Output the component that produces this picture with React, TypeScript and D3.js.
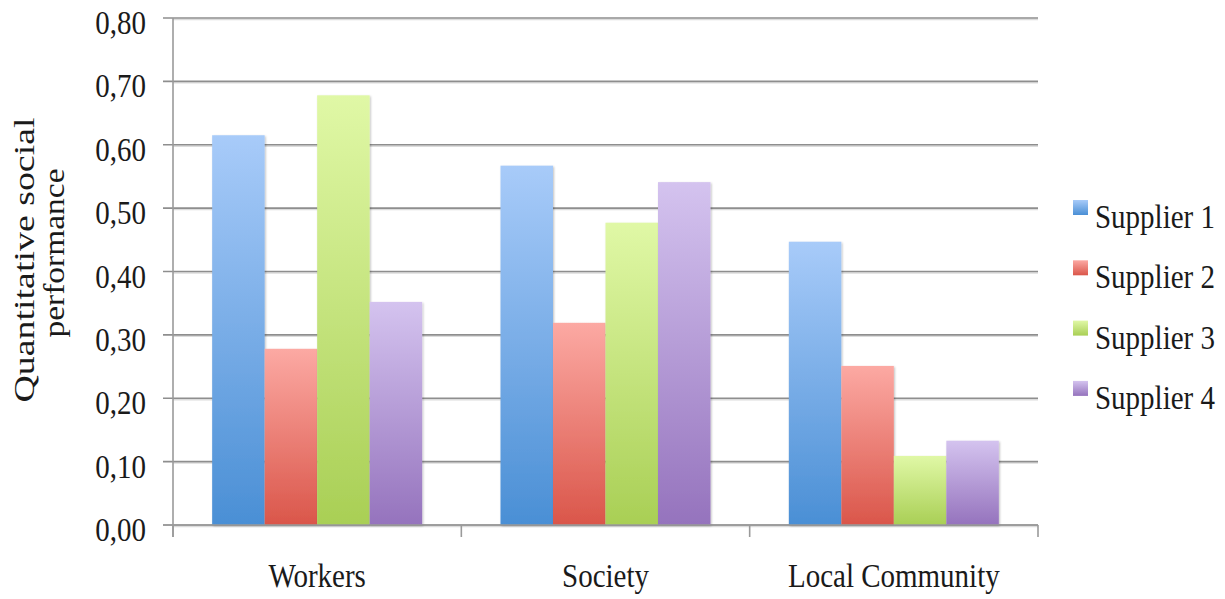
import React from "react";
import * as d3 from "d3";

// Social performance scores per stakeholder category
const categories = ["Workers", "Society", "Local Community"];
const series = ["Supplier 1", "Supplier 2", "Supplier 3", "Supplier 4"];
const supplier1 = [0.615, 0.567, 0.447];
const supplier2 = [0.278, 0.319, 0.251];
const supplier3 = [0.678, 0.477, 0.109];
const supplier4 = [0.352, 0.541, 0.133];
const yTicks = [0, 0.1, 0.2, 0.3, 0.4, 0.5, 0.6, 0.7, 0.8];
const yTitleLines = ["Quantitative social", "performance"];

const seriesValues = [supplier1, supplier2, supplier3, supplier4];

// Gradient stops (top, bottom) for each supplier's bars
const barColors = [
  ["#a8cbf9", "#4a8fd5"],
  ["#fca9a3", "#da564a"],
  ["#e0f8a6", "#a9cf55"],
  ["#d4c3ef", "#9573bd"],
];

const W = 1225;
const H = 599;
const plot = { left: 173, right: 1038, top: 18, bottom: 525 };
const FONT = "'Liberation Serif', 'Times New Roman', serif";
const FS = 29;
const STRETCH = 1.16;

export default function App() {
  const x = d3.scaleBand<string>().domain(categories).range([plot.left, plot.right]);
  const xInner = d3
    .scaleBand<string>()
    .domain(series)
    .range([0, x.bandwidth()])
    .paddingOuter(0.746);
  const y = d3.scaleLinear().domain([0, 0.8]).range([plot.bottom, plot.top]);
  const fmt = (v: number) => d3.format(".2f")(v).replace(".", ",");

  const boundaries = [plot.left, ...categories.map((c) => (x(c) as number) + x.bandwidth())];

  return (
    <svg
      width={W}
      height={H}
      style={{ position: "absolute", left: 0, top: 0, background: "#fff" }}
      fontFamily={FONT}
    >
      <defs>
        {barColors.map((c, i) => (
          <linearGradient key={i} id={`bar-grad-${i}`} x1="0" y1="0" x2="0" y2="1">
            <stop offset="0%" stopColor={c[0]} />
            <stop offset="100%" stopColor={c[1]} />
          </linearGradient>
        ))}
        <filter id="bar-shadow" x="-10%" y="-10%" width="120%" height="120%">
          <feGaussianBlur in="SourceAlpha" stdDeviation="1" />
          <feOffset dx="0.5" dy="0.5" result="b" />
          <feComponentTransfer>
            <feFuncA type="linear" slope="0.25" />
          </feComponentTransfer>
          <feMerge>
            <feMergeNode />
            <feMergeNode in="SourceGraphic" />
          </feMerge>
        </filter>
      </defs>

      {/* horizontal gridlines with soft shadow */}
      {yTicks.map((t) => (
        <g key={t}>
          <line x1={plot.left} x2={plot.right} y1={y(t) + 1.5} y2={y(t) + 1.5} stroke="#dcdcdc" strokeWidth={1.4} />
          <line x1={plot.left - 10} x2={plot.right} y1={y(t)} y2={y(t)} stroke="#8e8e8e" strokeWidth={1.6} />
        </g>
      ))}

      {/* y axis line */}
      <line x1={plot.left} x2={plot.left} y1={plot.top} y2={plot.bottom + 12} stroke="#9a9a9a" strokeWidth={1.6} />

      {/* category boundary ticks */}
      {boundaries.map((bx, i) => (
        <line key={i} x1={bx} x2={bx} y1={plot.bottom} y2={plot.bottom + 12} stroke="#9a9a9a" strokeWidth={1.6} />
      ))}

      {/* bars */}
      {categories.map((c, ci) => (
        <g key={c} transform={`translate(${x(c)},0)`}>
          {series.map((s, si) => {
            const v = seriesValues[si][ci];
            return (
              <rect
                key={s}
                x={xInner(s)}
                y={y(v)}
                width={xInner.bandwidth()}
                height={y(0) - y(v)}
                fill={`url(#bar-grad-${si})`}
                filter="url(#bar-shadow)"
              />
            );
          })}
        </g>
      ))}

      {/* x axis line on top of bars */}
      <line x1={plot.left - 10} x2={plot.right} y1={plot.bottom} y2={plot.bottom} stroke="#9a9a9a" strokeWidth={1.6} />

      {/* y tick labels */}
      {yTicks.map((t) => (
        <text
          key={t}
          transform={`translate(146,${y(t) + 16}) scale(1,${STRETCH})`}
          textAnchor="end"
          fontSize={FS}
          fill="#1a1a1a"
        >
          {fmt(t)}
        </text>
      ))}

      {/* category labels */}
      {categories.map((c) => (
        <text
          key={c}
          transform={`translate(${(x(c) as number) + x.bandwidth() / 2},587) scale(1,${STRETCH})`}
          textAnchor="middle"
          fontSize={FS}
          fill="#1a1a1a"
        >
          {c}
        </text>
      ))}

      {/* y axis title */}
      <text
        transform="translate(34,260) rotate(-90)"
        textAnchor="middle"
        fontSize={FS}
        fill="#1a1a1a"
        textLength={285}
        lengthAdjust="spacingAndGlyphs"
      >
        {yTitleLines[0]}
      </text>
      <text
        transform="translate(64,253) rotate(-90)"
        textAnchor="middle"
        fontSize={FS}
        fill="#1a1a1a"
        textLength={169}
        lengthAdjust="spacingAndGlyphs"
      >
        {yTitleLines[1]}
      </text>

      {/* legend */}
      {series.map((s, i) => (
        <g key={s} transform={`translate(1073,${200 + i * 60.3})`}>
          <rect width={15} height={15} fill={`url(#bar-grad-${i})`} />
          <text transform={`translate(22,28) scale(1,${STRETCH})`} fontSize={FS} fill="#1a1a1a">
            {s}
          </text>
        </g>
      ))}
    </svg>
  );
}
